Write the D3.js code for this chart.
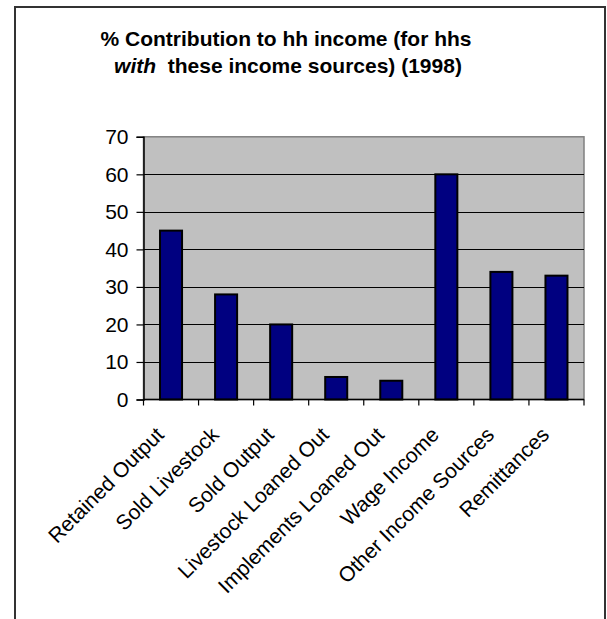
<!DOCTYPE html>
<html>
<head>
<meta charset="utf-8">
<script src="https://cdn.jsdelivr.net/npm/d3@7"></script>
<style>
  html, body { margin: 0; padding: 0; background: #fff; }
  svg { display: block; }
  text { font-family: "Liberation Sans", Arial, sans-serif; fill: #000; }
</style>
</head>
<body>
<svg id="chart" width="607" height="619"></svg>
<script>
const categories = ["Retained Output", "Sold Livestock", "Sold Output", "Livestock Loaned Out",
  "Implements Loaned Out", "Wage Income", "Other Income Sources", "Remittances"];
const values = [45, 28, 20, 6, 5, 60, 34, 33];
const yTicks = [0, 10, 20, 30, 40, 50, 60, 70];
const titleLine1 = "% Contribution to hh income (for hhs";
const titleLine2Italic = "with";
const titleLine2Rest = "these income sources) (1998)";

const svg = d3.select("#chart");
const plot = { left: 143.5, right: 584, top: 136.8, bottom: 399.5 };

// outer frame
svg.append("rect")
  .attr("x", 15).attr("y", 7).attr("width", 590).attr("height", 640)
  .attr("fill", "#fff").attr("stroke", "#333").attr("stroke-width", 2);

// title
const title = svg.append("g").attr("font-weight", "bold").attr("font-size", 21);
title.append("text").attr("x", 286).attr("y", 46).attr("text-anchor", "middle").text(titleLine1);
const t2 = title.append("text").attr("x", 288).attr("y", 72.7).attr("text-anchor", "middle");
t2.append("tspan").attr("font-style", "italic").text(titleLine2Italic);
t2.append("tspan").text("\u00a0 " + titleLine2Rest);

const x = d3.scaleBand().domain(categories).range([plot.left, plot.right])
  .paddingInner(0.6).paddingOuter(0.3);
const y = d3.scaleLinear().domain([0, 70]).range([plot.bottom, plot.top]);

// plot area background
svg.append("rect")
  .attr("x", plot.left).attr("y", plot.top)
  .attr("width", plot.right - plot.left).attr("height", plot.bottom - plot.top)
  .attr("fill", "#c0c0c0").attr("stroke", "#808080").attr("stroke-width", 1.5);

// gridlines
svg.append("g").selectAll("line").data(yTicks.filter(d => d > 0 && d < 70)).join("line")
  .attr("x1", plot.left).attr("x2", plot.right)
  .attr("y1", d => Math.round(y(d)) + 0.5).attr("y2", d => Math.round(y(d)) + 0.5)
  .attr("stroke", "#000").attr("stroke-width", 1);

// bars
svg.append("g").selectAll("rect").data(values).join("rect")
  .attr("x", (d, i) => x(categories[i]))
  .attr("y", d => y(d))
  .attr("width", x.bandwidth())
  .attr("height", d => y(0) - y(d))
  .attr("fill", "#000080").attr("stroke", "#000").attr("stroke-width", 2);

// y axis
const yAxis = d3.axisLeft(y).tickValues(yTicks).tickSize(7).tickPadding(8).tickFormat(d3.format("d"));
const ya = svg.append("g").attr("transform", `translate(${plot.left},0)`).call(yAxis);
ya.select(".domain").attr("stroke", "#000").attr("stroke-width", 1.5);
ya.selectAll(".tick line").attr("stroke", "#000").attr("stroke-width", 1.2);
ya.selectAll(".tick text").attr("font-size", 21).attr("font-family", "Liberation Sans, Arial, sans-serif").attr("fill", "#000");

// x axis line and ticks at category boundaries
const boundaries = d3.range(categories.length + 1).map(i => plot.left + i * (plot.right - plot.left) / categories.length);
svg.append("line").attr("x1", plot.left).attr("x2", plot.right)
  .attr("y1", plot.bottom).attr("y2", plot.bottom).attr("stroke", "#000").attr("stroke-width", 1.5);
svg.append("g").selectAll("line").data(boundaries).join("line")
  .attr("x1", d => d).attr("x2", d => d)
  .attr("y1", plot.bottom).attr("y2", plot.bottom + 6)
  .attr("stroke", "#000").attr("stroke-width", 1.2);

// x labels
svg.append("g").selectAll("text").data(categories).join("text")
  .attr("transform", d => `translate(${x(d) + x.bandwidth() / 2 - 6},436) rotate(-45)`)
  .attr("text-anchor", "end").attr("font-size", 21)
  .text(d => d);
</script>
</body>
</html>
